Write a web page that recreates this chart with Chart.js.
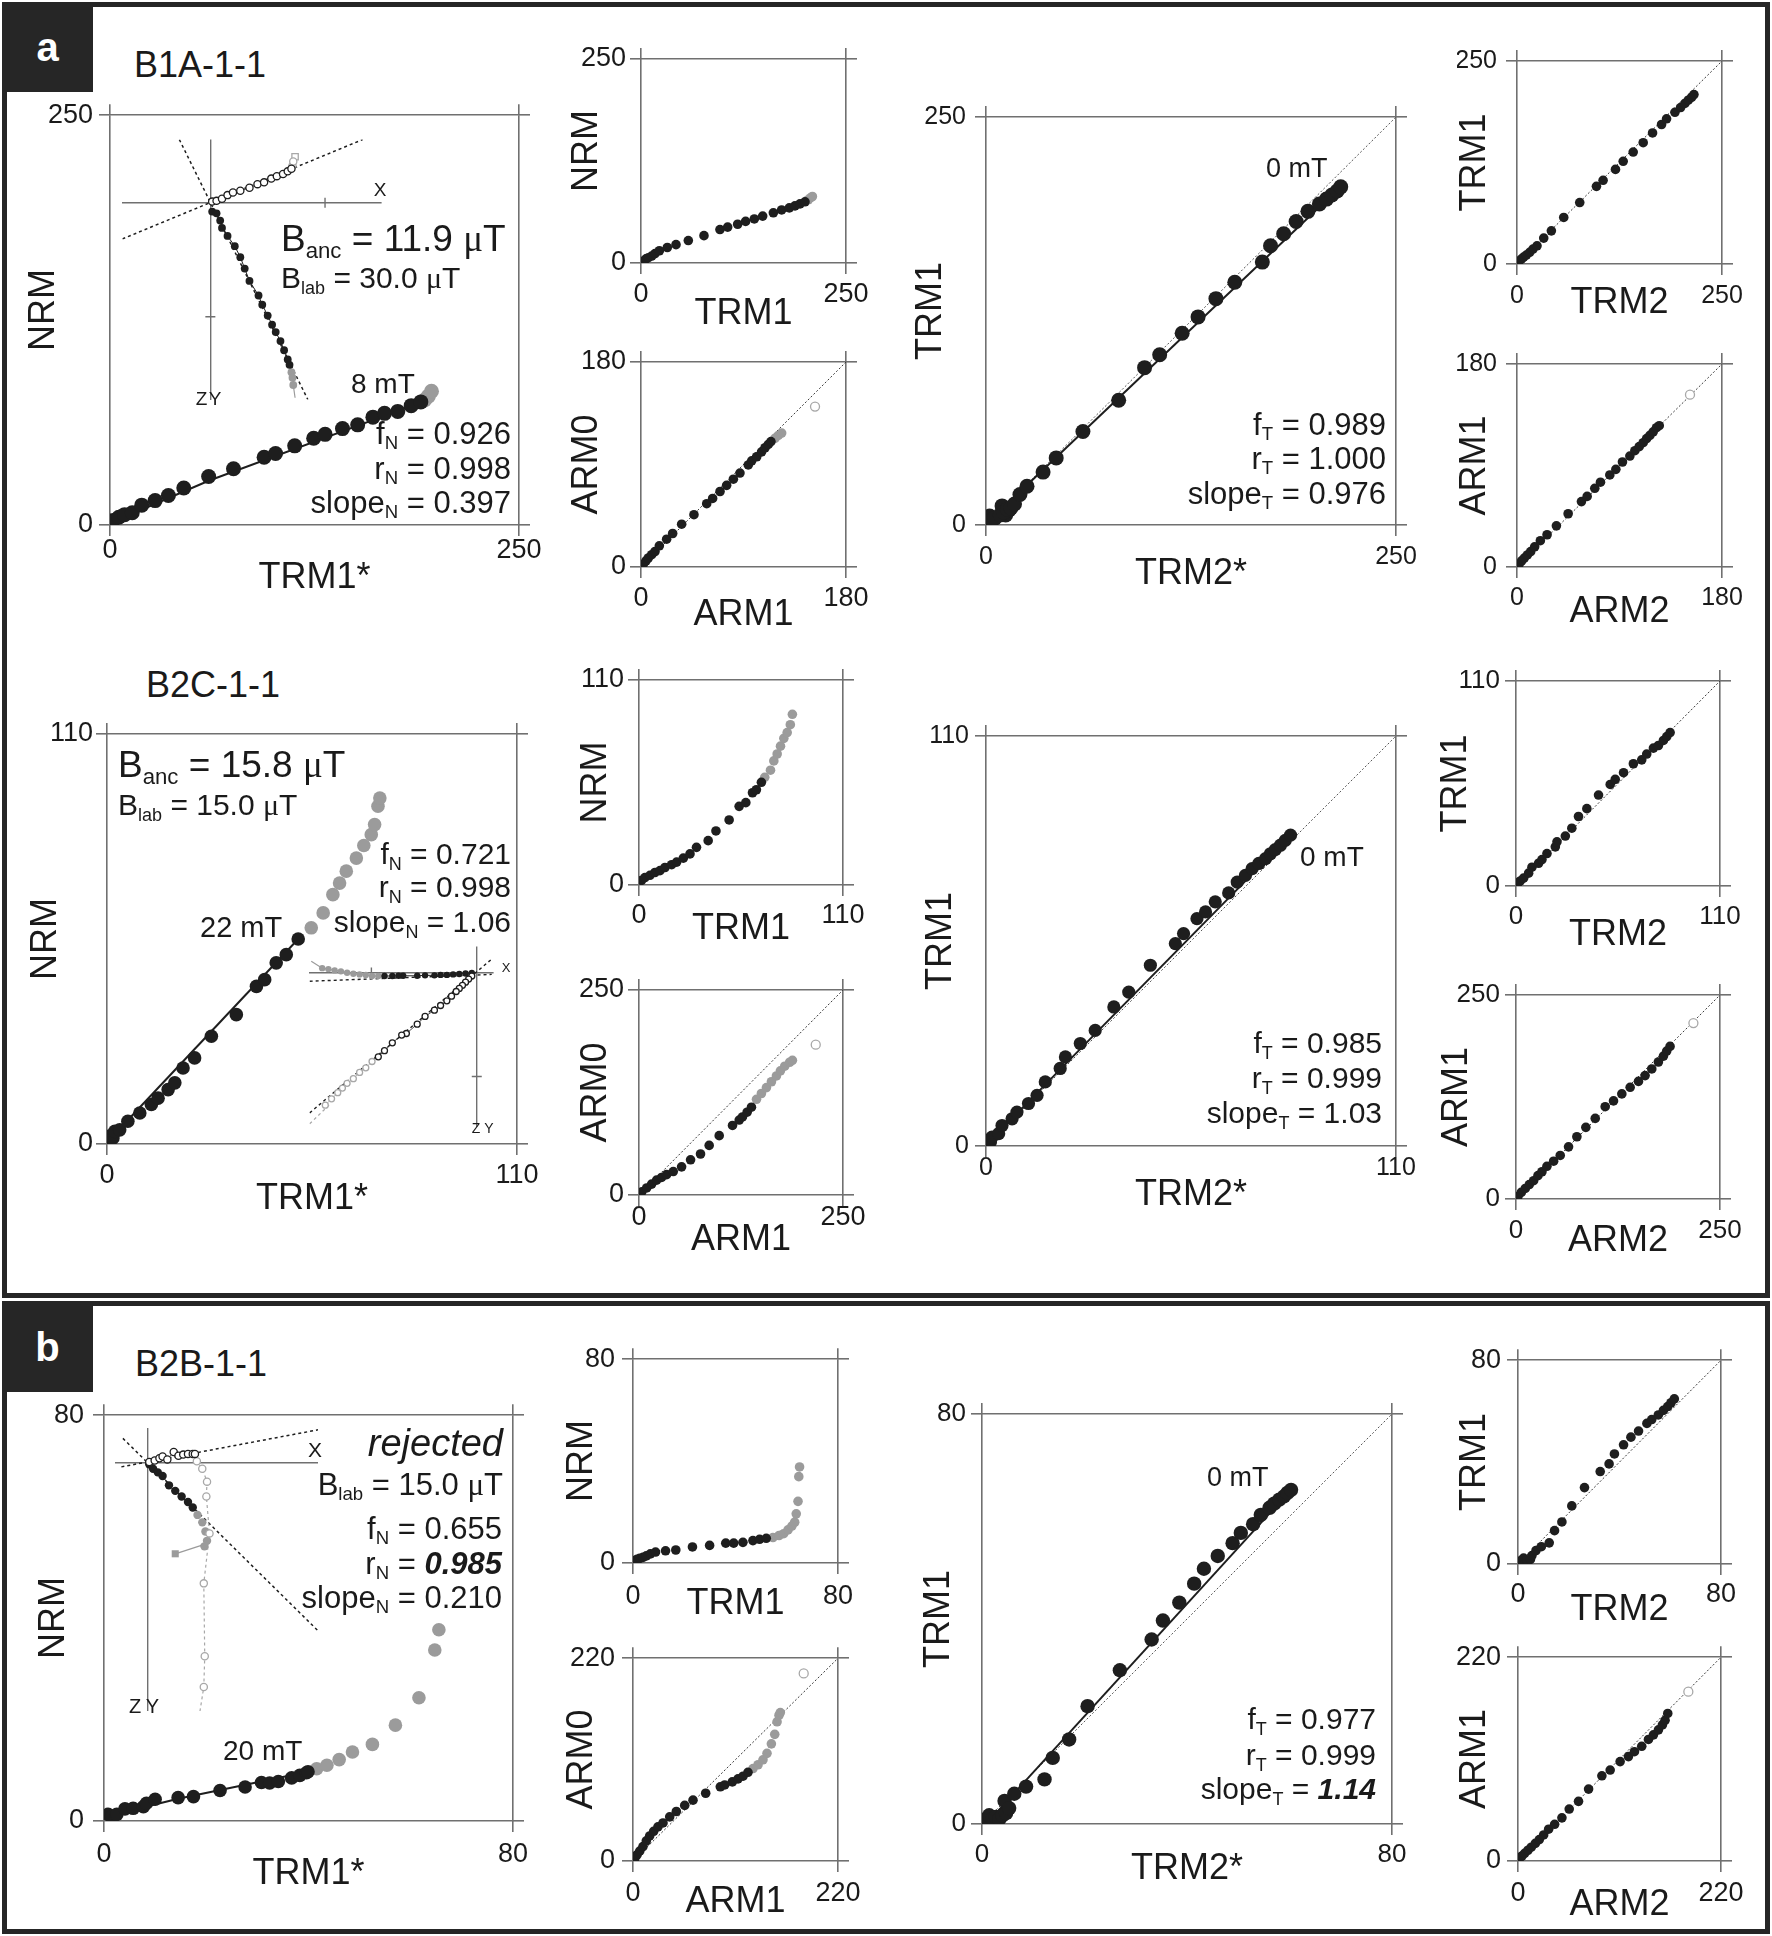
<!DOCTYPE html>
<html><head><meta charset="utf-8"><title>Tsunakawa-Shaw plots</title>
<script src="https://cdn.jsdelivr.net/npm/chart.js@4.4.1/dist/chart.umd.min.js"></script>
<style>
html,body{margin:0;padding:0;background:#fff;}
#root{position:relative;width:1772px;height:1936px;overflow:hidden;background:#fff;font-family:"Liberation Sans",Arial,Helvetica,sans-serif;color:#1a1a1a;}
.frame{position:absolute;box-sizing:border-box;border:5px solid #262626;}
.tag{position:absolute;background:#262626;color:#fff;font-weight:bold;font-size:40px;line-height:1;display:flex;align-items:center;justify-content:center;}
.t{position:absolute;white-space:nowrap;line-height:1;}
.s{font-size:0.6em;vertical-align:-0.32em;line-height:0;}
.mu{font-family:"Liberation Serif","DejaVu Serif",serif;}
canvas{position:absolute;}
</style></head>
<body><div id="root">
<div class="frame" style="left:2px;top:2px;width:1768px;height:1296px"></div>
<div class="frame" style="left:2px;top:1301px;width:1768px;height:633px"></div>
<div class="tag" style="left:2px;top:2px;width:91px;height:90px">a</div>
<div class="tag" style="left:2px;top:1301px;width:91px;height:91px">b</div>
</div>
<script>
// ================= DATA =================
// ---- Panel a, B1A-1-1
const A1_ticks = [0, 250];
const A1_blackX = [0.5,1.9,5.4,8.9,13.6,19.4,27.6,35.7,45.1,60.3,75.5,94.2,101.2,112.9,124.5,131.5,142.1,151.4,160.7,167.8,175.9,184.1,190.0];
const A1_blackY = [0.8,2.8,4.7,6.3,7.5,12.1,14.9,18.0,22.6,29.6,34.3,41.3,43.6,48.3,52.9,55.3,58.8,61.1,65.8,68.1,69.3,72.8,75.1];
const A1_grayX = [192.3,194.6,196.5];
const A1_grayY = [76.3,78.6,81.6];
const A1_fitX = [0,60.3,190];
const A1_fitY = [1,27,74.8];

const A2_ticks = [0, 250];
const A2_blackX = [2.8,6.1,9.0,13.0,17.1,22.4,32.1,42.7,57.7,76.8,96.3,105.7,117.9,127.6,138.2,148.4,161.4,171.5,180.9,187.8,193.9,200.0];
const A2_blackY = [2.5,5.0,6.5,8.5,11.5,15.0,19.0,22.5,27.5,33.5,41.0,44.0,47.5,51.0,54.0,57.5,61.5,65.0,67.5,70.0,72.5,75.0];
const A2_grayX = [204,207,209];
const A2_grayY = [77.5,80,81.5];

const A3_ticks = [0, 180];
const A3_blackX = [2.0,4.4,6.4,9.4,12.3,16.1,22.5,27.8,35.7,46.5,57.7,62.9,69.4,75.2,81.1,86.9,94.2,97.2,101.6,105.9,108.9,111.8,114.1];
const A3_blackY = [2.5,5.4,7.9,10.8,13.6,18.6,24.4,29.4,37.6,45.9,55.6,60.2,66.3,71.7,77.1,82.5,89.6,93.2,96.8,101.1,104.7,107.6,110.1];
const A3_grayX = [117.6,120.6,123.5];
const A3_grayY = [112.9,115.5,117.6];
const A3_openX = [152.8];
const A3_openY = [140.9];

const A4_ticks = [0, 250];
const A4_x = [1.1,3.3,5.4,8.7,10.9,13.0,15.2,17.4,20.7,25.0,34.8,42.8,59.1,80.9,96.7,105.9,119.6,129.3,140.2,151.7,168.5,173.5,181.5,189.1,196.3,203.3,207.6,210.9,214.1,216.3];
const A4_y = [1.7,3.0,4.2,6.2,8.0,9.7,10.5,12.9,18.7,23.7,32.4,41.1,57.3,76.4,96.4,104.3,117.5,127.5,138.7,148.7,161.1,171.1,178.5,186.0,192.2,196.7,199.7,202.2,204.7,207.2];
const A4_clusterX = [2.2,9.8,12.0,14.1];
const A4_clusterY = [5.5,11.7,6.2,9.2];
const A4_fitX = [1,216.3];
const A4_fitY = [1.5,207.2];

const A5_ticks = [0, 250];
const A5_x = [2.4,5.3,8.1,11.4,15.5,19.5,24.4,32.6,41.9,57.0,76.5,96.9,105.0,120.1,129.5,141.7,153.9,165.3,176.3,182.4,192.6,199.5,204.8,208.9,212.9,215.8];
const A5_y = [3.5,6.0,8.5,11.0,14.4,18.4,22.4,31.9,40.8,57.3,75.7,95.6,103.1,116.5,126.5,137.9,149.4,161.4,171.8,178.8,186.8,192.7,197.7,201.7,205.2,208.7];

const A6_ticks = [0, 180];
const A6_x = [1.8,4.1,6.4,9.1,12.0,15.5,20.5,26.4,34.6,44.9,56.6,61.6,68.3,73.3,81.5,86.8,92.6,99.1,103.5,107.3,110.8,113.8,116.7,119.6,122.5,124.9];
const A6_y = [2.5,5.4,7.9,10.7,13.6,17.9,23.3,28.6,36.5,47.2,58.0,62.6,69.8,75.2,81.6,86.6,93.1,98.4,103.1,106.7,110.2,113.8,116.7,119.9,123.5,125.3];
const A6_openX = [151.9];
const A6_openY = [152.8];

// ---- Panel a, B2C-1-1
const B1_ticks = [0, 110];
const B1_blackX = [0.3,0.7,1.6,2.1,3.4,5.6,8.8,11.9,13.7,16.4,18.2,20.4,23.5,28.0,34.7,40.1,42.3,45.4,48.1,51.3];
const B1_blackY = [1.2,2.1,1.6,3.4,3.8,6.1,8.3,10.6,12.3,14.6,16.4,20.4,23.1,28.9,34.7,42.3,44.1,48.6,50.8,55.0];
const B1_grayX = [54.8,58.0,60.6,62.4,64.2,66.9,68.9,70.9,71.8,72.7,73.2];
const B1_grayY = [58.0,62.0,66.9,70.0,73.2,76.7,80.1,83.0,85.7,90.6,92.8];
const B1_fitX = [0.5,51.3];
const B1_fitY = [1.0,55.0];

const B2_ticks = [0, 110];
const B2_blackX = [1.4,3.2,5.9,8.6,11.3,14.0,17.6,20.3,23.9,27.5,31.0,37.3,41.5,48.6,54.0,57.6,61.2,63.3,66.0];
const B2_blackY = [2.5,4.0,5.2,6.7,7.7,9.4,10.9,12.3,14.4,16.7,20.2,23.8,29.0,34.9,42.2,44.2,49.5,51.1,55.1];
const B2_grayX = [67.8,70.9,72.7,74.5,76.3,78.1,79.9,81.6,82.7];
const B2_grayY = [57.8,61.6,66.6,70.3,74.5,78.7,81.8,86.0,91.6];

const B3_ticks = [0, 250];
const B3_blackX = [3.3,9.4,15.5,21.6,27.7,33.8,42.0,52.2,63.2,75.4,86.0,98.3,114.6,122.8,126.8,132.5,137.8];
const B3_blackY = [3.8,8.6,13.3,18.1,21.4,24.8,28.6,34.3,42.9,50.0,60.5,72.4,84.8,91.4,95.2,101.0,107.1];
const B3_grayX = [144.0,150.0,156.2,162.3,168.4,173.3,178.6,184.7,188.0];
const B3_grayY = [116.7,123.8,131.0,138.1,145.2,151.4,157.1,161.9,164.3];
const B3_openX = [216.6];
const B3_openY = [183.3];

const B4_ticks = [0, 110];
const B4_x = [0.3,0.7,1.2,1.6,3.4,4.3,7.0,8.3,11.4,13.7,15.9,19.9,21.3,25.3,29.3,34.3,38.3,44.1,50.8,53.0,56.6,58.9,61.5,65.1,67.4,69.6,71.4,73.2,75.0,76.3,77.6,79.0,80.3,81.7];
const B4_y = [0.6,1.5,1.1,2.4,3.3,5.5,7.3,9.1,11.4,13.6,17.2,20.8,23.9,27.5,31.0,37.3,41.3,48.5,54.3,57.0,61.0,62.8,65.5,67.9,70.8,72.6,74.4,75.8,77.1,78.4,79.5,80.7,82.0,83.4];
const B4_fitX = [1,81.7];
const B4_fitY = [1.3,83.4];

const B5_ticks = [0, 110];
const B5_x = [1.1,2.3,4.1,6.8,8.6,12.2,14.0,16.7,21.2,22.1,26.6,30.1,33.7,38.2,44.5,50.8,53.5,58.0,63.3,67.8,70.5,74.1,76.8,79.5,81.3,83.1];
const B5_y = [1.7,2.7,4.2,6.9,10.1,12.2,14.2,17.4,21.0,23.7,26.8,31.0,37.3,41.5,48.8,54.5,57.2,60.8,65.6,67.7,70.8,74.0,75.4,78.1,80.2,82.3];

const B6_ticks = [0, 250];
const B6_x = [2.4,6.5,11.4,16.3,21.6,26.9,31.8,37.9,46.1,54.2,64.4,74.6,85.6,97.1,109.3,119.5,129.7,139.9,150.1,158.2,166.4,174.5,180.7,184.7,188.8];
const B6_y = [3.3,8.1,12.9,17.7,22.4,28.6,33.4,40.1,46.3,53.4,63.9,76.3,87.8,98.8,113.1,120.2,128.8,136.9,144.1,151.2,159.4,167.9,175.1,181.3,187.0];
const B6_openX = [217.4];
const B6_openY = [215.6];

// ---- Panel b, B2B-1-1
const C1_ticks = [0, 80];
const C1_blackX = [0.8,1.5,2.5,4.1,5.7,7.7,8.3,10.0,14.5,17.5,22.7,27.6,30.8,32.4,34.1,36.7,38.3,39.6,39.9];
const C1_blackY = [1.3,0.9,1.3,2.4,2.5,2.8,3.5,4.3,4.6,4.8,6.0,6.7,7.6,7.5,7.8,8.5,9.0,9.5,9.7];
const C1_grayX = [41.6,43.6,46.0,48.6,52.5,57.0,61.6,64.7,65.5];
const C1_grayY = [10.3,11.0,12.1,13.6,15.1,18.9,24.3,33.7,37.7];
const C1_fitX = [0.8,14.5,39.9];
const C1_fitY = [1.0,4.4,9.7];

const C2_ticks = [0, 80];
const C2_blackX = [0.7,1.6,2.6,3.9,5.2,6.8,8.8,12.7,16.7,23.2,29.9,36.2,39.3,42.9,46.8,49.4,52.0];
const C2_blackY = [1.0,1.5,1.8,2.2,2.8,3.6,4.3,4.8,5.1,6.3,6.9,7.8,7.8,8.1,8.8,9.3,9.7];
const C2_grayX = [54.6,57.0,58.8,60.5,62.0,63.1,63.7,64.4,64.7,65.0];
const C2_grayY = [10.0,10.8,11.5,13.0,14.5,16.0,19.3,24.2,33.9,37.7];

const C3_ticks = [0, 220];
const C3_blackX = [1.8,4.3,7.2,10.7,14.3,17.9,22.2,26.8,32.2,39.4,46.5,55.5,64.4,78.0,93.7,98.4,106.6,112.7,118.1,123.4];
const C3_blackY = [2.5,6.6,10.7,15.7,21.9,27.2,32.2,37.1,41.3,47.9,53.7,60.3,66.0,73.5,80.5,82.5,85.8,89.1,92.0,96.2];
const C3_grayX = [128.8,134.2,139.5,143.8,148.5,152.1,154.6,156.7,158.1];
const C3_grayY = [100.3,104.4,109.8,116.8,127.1,137.4,151.0,158.1,161.0];
const C3_openX = [183.2];
const C3_openY = [203.5];

const C4_ticks = [0, 80];
const C4_x = [0.8,1.4,2.1,2.7,3.4,4.0,4.4,4.7,5.3,6.3,8.6,12.2,13.8,17.0,20.6,26.9,33.1,35.3,38.5,41.4,43.3,46.0,48.9,50.5,52.9,54.4,56.1,57.0,58.0,58.9,59.6,60.3];
const C4_y = [1.0,1.7,1.0,1.4,1.0,1.7,4.5,2.1,3.1,5.9,7.3,8.7,12.9,16.5,23.0,30.0,36.0,39.7,43.2,46.9,49.8,52.3,54.8,56.8,58.5,60.3,61.7,62.5,63.3,63.9,64.6,65.2];
const C4_fitX = [3,60.3];
const C4_fitY = [2.4,65.2];

const C5_ticks = [0, 80];
const C5_x = [0.5,1.3,2.2,3.5,4.9,5.5,7.1,9.2,12.3,14.4,17.3,21.2,26.2,32.4,35.9,38.0,41.6,44.5,47.5,50.8,52.7,55.3,57.3,59.0,60.3,61.6];
const C5_y = [0.8,1.5,2.3,1.5,1.8,3.3,5.3,6.8,8.3,13.1,16.5,22.8,30.0,36.3,39.3,43.2,46.8,49.8,52.2,55.2,56.7,58.5,60.3,61.8,63.3,64.8];

const C6_ticks = [0, 220];
const C6_x = [1.4,4.3,7.2,10.8,14.4,18.8,23.1,27.8,33.2,39.7,47.6,55.5,65.6,76.5,90.9,99.9,110.7,119.7,126.2,134.1,141.4,146.8,152.2,156.5,159.4,162.3];
const C6_y = [2.5,5.4,8.3,11.6,14.9,19.0,23.1,28.1,34.3,39.6,46.6,56.1,64.4,77.6,92.0,98.2,107.3,112.7,118.0,123.8,131.2,136.2,141.6,146.9,151.9,159.3];
const C6_openX = [184.6];
const C6_openY = [182.8];

// ---- Zijderveld insets (arbitrary units)
const Z_axis = [0];
const Z1_openX = [1.9,6.5,12.2,18.0,23.7,31.4,41.0,49.4,56.3,63.9,69.7,76.2,81.1,85.0];
const Z1_openY = [1.2,2.0,4.2,8.0,10.7,12.6,15.7,19.5,21.4,25.3,27.9,30.2,32.9,35.6];
const Z1_openGrayX = [86.1,86.9];
const Z1_openGrayY = [38.7,43.3];
const Z1_squareX = [88.8];
const Z1_squareY = [48.2];
const Z1_fillX = [1.9,6.5,10.3,12.2,18.0,25.6,31.4,36.0,41.0,50.5,54.4,60.1,64.7,68.5,73.5,77.3,81.1,83.0];
const Z1_fillY = [-9.2,-11.1,-18.7,-26.4,-34.8,-45.5,-57.0,-69.0,-81.9,-97.2,-106.8,-118.2,-127.8,-135.5,-145.0,-154.6,-164.2,-169.9];
const Z1_fillGrayX = [85.0,86.1,86.9];
const Z1_fillGrayY = [-177.6,-183.3,-191.0];
const Z1_tailX = [83.0,85.0,86.1,86.9,88.8];
const Z1_tailY = [-169.9,-177.6,-183.3,-191.0,-204.4];
const Z1_fitAX = [-92.2,159.6];
const Z1_fitAY = [-37.9,66.2];
const Z1_fitBX = [-32.5,102.2];
const Z1_fitBY = [66.2,-206.3];
const Z1_tickX = [120.2];
const Z1_tickY = [-119.4];

const Z2_fillX = [-5.3,-12.0,-18.7,-25.3,-32.0,-38.7,-45.3,-55.3,-63.7,-78.7,-83.7,-90.3,-98.7];
const Z2_fillY = [-0.5,-1.0,-1.5,-2.0,-2.5,-2.5,-3.0,-3.0,-3.5,-3.5,-3.5,-3.7,-3.7];
const Z2_fillGrayX = [-105.3,-112.0,-118.7,-125.3,-132.0,-138.7,-145.3,-152.0,-158.7,-165.3];
const Z2_fillGrayY = [-3.7,-3.7,-2.7,-2.0,-1.3,-0.3,1.3,2.3,3.7,4.7];
const Z2_tailX = [-98.7,-105.3,-112.0,-118.7,-125.3,-132.0,-138.7,-145.3,-152.0,-158.7,-165.3,-177.0];
const Z2_tailY = [-3.7,-3.7,-3.7,-2.7,-2.0,-1.3,-0.3,1.3,2.3,3.7,4.7,12.0];
const Z2_openX = [-5.3,-8.7,-12.0,-15.3,-18.7,-22.0,-27.0,-32.0,-38.7,-45.3,-55.3,-63.7,-75.3,-80.3,-90.3,-98.7,-105.3];
const Z2_openY = [-3.7,-7.0,-10.3,-13.7,-17.0,-20.3,-25.3,-30.3,-35.3,-40.3,-47.0,-55.3,-65.3,-67.0,-75.3,-83.7,-90.3];
const Z2_openGrayX = [-112.0,-118.7,-125.3,-132.0,-138.7,-143.7,-148.7,-155.3,-162.0];
const Z2_openGrayY = [-95.3,-102.0,-107.0,-113.7,-118.7,-123.7,-128.7,-135.3,-142.0];
const Z2_fitAX = [-178.7,16.3];
const Z2_fitAY = [-150.3,14.7];
const Z2_fitBX = [-178.7,16.0];
const Z2_fitBY = [-9.3,-2.0];
const Z2_fitCX = [-178.7,-158.0];
const Z2_fitCY = [-162.0,-142.0];
const Z2_tickX = [-112.7];
const Z2_tickY = [-111.3];

const Z3_openX = [2.0,7.7,12.7,16.0,21.0,27.7,32.7,37.7,42.7,47.7,50.0];
const Z3_openY = [1.1,2.7,5.0,6.9,3.8,11.5,7.6,8.8,9.5,9.5,9.5];
const Z3_openGrayX = [52.0,57.7,62.7,62.0,65.3,59.3,60.3,59.3];
const Z3_openGrayY = [1.9,-5.8,-19.2,-34.5,-72.7,-124.4,-199.8,-231.6];
const Z3_openTailX = [50.0,52.0,57.7,62.7,62.0,65.3,59.3,60.3,59.3,55.3];
const Z3_openTailY = [9.5,1.9,-5.8,-19.2,-34.5,-72.7,-124.4,-199.8,-231.6,-256.4];
const Z3_fillX = [2.0,6.0,11.0,16.0,22.7,29.3,36.0,42.7,47.7];
const Z3_fillY = [-1.2,-5.8,-9.6,-13.4,-23.0,-28.7,-34.5,-40.2,-46.0];
const Z3_fillGrayX = [52.7,57.7,61.0,62.7,60.0];
const Z3_fillGrayY = [-53.6,-61.3,-70.8,-80.4,-86.1];
const Z3_squareX = [29.3];
const Z3_squareY = [-93.8];
const Z3_sqLineX = [29.3,60.0];
const Z3_sqLineY = [-93.8,-84.0];
const Z3_fitAX = [-27.3,179.3];
const Z3_fitAY = [-3.9,34.4];
const Z3_fitBX = [-25.7,179.3];
const Z3_fitBY = [25.6,-173.4];

// ================= DRAWING =================
const FF = '"Liberation Sans", Arial, Helvetica, sans-serif';
const TC = '#1a1a1a', BLACK = '#1e1e1e', GRAY = '#9b9b9b', OGRAY = '#a8a8a8', AX = '#707070';
const DOT1 = '#3a3a3a', DOTB = '#555';
const root = document.getElementById('root');
Chart.defaults.font.family = FF;

function pts(xs, ys) { return xs.map((x, i) => ({x: x, y: ys[i]})); }
function dots(xs, ys, color, r, style) {
  return {data: pts(xs, ys), pointRadius: r, pointHoverRadius: r, pointStyle: style || 'circle', backgroundColor: color, borderWidth: 0, showLine: false, order: 0};
}
function rings(xs, ys, color, r, style) {
  return {data: pts(xs, ys), pointRadius: r, pointHoverRadius: r, pointStyle: style || 'circle', backgroundColor: '#fff', borderColor: color, borderWidth: 1.3, showLine: false, order: 0};
}
function line(xs, ys, color, w, dash, order) {
  return {data: pts(xs, ys), pointRadius: 0, pointHoverRadius: 0, borderColor: color, borderWidth: w, borderDash: dash || [], showLine: true, fill: false, order: order === undefined ? 1 : order};
}
function tick(xs, ys, rot) {
  return {data: pts(xs, ys), pointStyle: 'line', pointRotation: rot, pointRadius: 5, pointHoverRadius: 5, borderColor: AX, borderWidth: 1.4, showLine: false, order: 0};
}

function plot(p) {
  const tl = 11, tsz = 36;
  const WL = p.yOff + tsz / 2, HB = p.xOff + tsz / 2, HT = 22, WR = 44;
  const W = WL + p.w + WR, H = HT + p.h + HB;
  const cv = document.createElement('canvas');
  cv.width = W; cv.height = H;
  cv.style.left = (p.left - WL) + 'px'; cv.style.top = (p.top - HT) + 'px';
  cv.style.width = W + 'px'; cv.style.height = H + 'px';
  root.appendChild(cv);
  const max = p.ticks[p.ticks.length - 1];
  const tk = s => { s.ticks = p.ticks.map(v => ({value: v})); };
  const grid = on => ({display: true, drawOnChartArea: on, drawTicks: true, tickLength: tl, color: AX, lineWidth: 1.6});
  const tf = {family: FF, size: p.ksz};
  const ttl = txt => ({display: true, text: txt, color: TC, font: {family: FF, size: tsz, lineHeight: 1}, padding: 0});
  const ytxt = (p.yUp ? '  ' : '') + p.yt;
  new Chart(cv, {
    type: 'scatter',
    data: {datasets: p.ds},
    options: {
      responsive: false, animation: false, devicePixelRatio: 1, events: [],
      layout: {padding: 0},
      plugins: {legend: {display: false}, tooltip: {enabled: false}},
      scales: {
        x: {type: 'linear', position: 'bottom', min: 0, max: max, afterBuildTicks: tk, afterFit: s => { s.height = HB; },
            grid: grid(true), border: {display: false},
            ticks: {autoSkip: false, maxRotation: 0, minRotation: 0, padding: p.xpad, color: TC, font: tf, callback: v => String(v)},
            title: ttl(p.xt)},
        y: {type: 'linear', position: 'left', min: 0, max: max, afterBuildTicks: tk, afterFit: s => { s.width = WL; },
            grid: grid(true), border: {display: false},
            ticks: {autoSkip: false, padding: p.ypad, color: TC, font: tf, callback: v => String(v)},
            title: ttl(ytxt)},
        x2: {type: 'linear', position: 'top', min: 0, max: max, afterBuildTicks: tk, afterFit: s => { s.height = HT; },
             grid: grid(false), border: {display: false}, ticks: {display: false}},
        y2: {type: 'linear', position: 'right', min: 0, max: max, afterBuildTicks: tk, afterFit: s => { s.width = WR; },
             grid: grid(false), border: {display: false}, ticks: {display: false}}
      }
    }
  });
}

function inset(p) {
  const W = Math.round(p.w), H = Math.round(p.h);
  const cv = document.createElement('canvas');
  cv.width = W; cv.height = H;
  cv.style.left = Math.round(p.left) + 'px'; cv.style.top = Math.round(p.top) + 'px';
  cv.style.width = W + 'px'; cv.style.height = H + 'px';
  root.appendChild(cv);
  const z = s => { s.ticks = Z_axis.map(v => ({value: v})); };
  const ax = (pos, r, horiz) => ({type: 'linear', position: pos, min: r[0], max: r[1], afterBuildTicks: z,
    afterFit: s => { if (horiz) s.height = 0; else s.width = 0; },
    grid: {display: true, drawOnChartArea: true, drawTicks: false, color: AX, lineWidth: 1.4},
    border: {display: false}, ticks: {display: false}});
  new Chart(cv, {
    type: 'scatter',
    data: {datasets: p.ds},
    options: {
      responsive: false, animation: false, devicePixelRatio: 1, events: [],
      layout: {padding: 0},
      plugins: {legend: {display: false}, tooltip: {enabled: false}},
      scales: {x: ax('bottom', p.xr, true), y: ax('left', p.yr, false)}
    }
  });
}

function T(html, x, y, size, al, extra) {
  const d = document.createElement('div');
  d.className = 't';
  d.innerHTML = html;
  d.style.left = x + 'px'; d.style.top = y + 'px'; d.style.fontSize = size + 'px';
  d.style.transform = al === 'r' ? 'translate(-100%,-50%)' : al === 'c' ? 'translate(-50%,-50%)' : 'translateY(-50%)';
  if (extra) d.style.cssText += extra;
  root.appendChild(d);
}

const S = (t) => '<span class="s">' + t + '</span>';
const MU = '<span class="mu">μ</span>T';
const RS = 7.5, RM = 6.8, RSm = 4.8;

// ---- Row 1 : B1A-1-1
plot({left: 110, top: 115, w: 409, h: 410, ticks: A1_ticks, xt: 'TRM1*', yt: 'NRM', yUp: true, xOff: 53, yOff: 66, ksz: 27, xpad: -2, ypad: 6,
  ds: [dots(A1_blackX, A1_blackY, BLACK, RS), dots(A1_grayX, A1_grayY, GRAY, RS), line(A1_fitX, A1_fitY, BLACK, 2)]});
inset({left: 115.6, top: 133, w: 271.7, h: 272.7, xr: [-92.2, 179.5], yr: [-206.3, 66.4],
  ds: [
    rings(Z1_openX, Z1_openY, BLACK, 3.6), rings(Z1_openGrayX, Z1_openGrayY, OGRAY, 3.6), rings(Z1_squareX, Z1_squareY, OGRAY, 4.5, 'rect'),
    dots(Z1_fillX, Z1_fillY, BLACK, 3.9), dots(Z1_fillGrayX, Z1_fillGrayY, GRAY, 3.9),
    line(Z1_fillX, Z1_fillY, BLACK, 1, null, 1), line(Z1_tailX, Z1_tailY, GRAY, 1.2, null, 1),
    line(Z1_openX, Z1_openY, BLACK, 0.8, null, 1),
    line(Z1_fitAX, Z1_fitAY, BLACK, 1.5, [3, 3], 3), line(Z1_fitBX, Z1_fitBY, BLACK, 1.5, [3, 3], 3),
    tick(Z1_tickX, Z_axis, 90), tick(Z_axis, Z1_tickY, 0)
  ]});

plot({left: 641, top: 59, w: 205, h: 204, ticks: A2_ticks, xt: 'TRM1', yt: 'NRM', yUp: true, xOff: 51, yOff: 54, ksz: 27, xpad: 4, ypad: 4,
  ds: [dots(A2_blackX, A2_blackY, BLACK, RSm), dots(A2_grayX, A2_grayY, GRAY, RSm)]});
plot({left: 641, top: 362, w: 205, h: 205, ticks: A3_ticks, xt: 'ARM1', yt: 'ARM0', xOff: 48, yOff: 54, ksz: 27, xpad: 4, ypad: 4,
  ds: [dots(A3_blackX, A3_blackY, BLACK, RSm), dots(A3_grayX, A3_grayY, GRAY, RSm), rings(A3_openX, A3_openY, OGRAY, 4.5),
       line(A3_ticks, A3_ticks, DOT1, 1, [2, 2], 3)]});
plot({left: 986, top: 115, w: 410, h: 410, ticks: A4_ticks, xt: 'TRM2*', yt: 'TRM1', yUp: true, xOff: 49, yOff: 55, ksz: 25, xpad: 6, ypad: 9,
  ds: [dots(A4_x, A4_y, BLACK, RS), dots(A4_clusterX, A4_clusterY, BLACK, RS), line(A4_fitX, A4_fitY, BLACK, 2),
       line(A4_ticks, A4_ticks, DOTB, 1, [2, 2], 3)]});
plot({left: 1517, top: 59, w: 205, h: 205, ticks: A5_ticks, xt: 'TRM2', yt: 'TRM1', xOff: 39, yOff: 42, ksz: 25, xpad: 6, ypad: 9,
  ds: [dots(A5_x, A5_y, BLACK, RSm), line(A5_ticks, A5_ticks, DOT1, 1, [2, 2], 3)]});
plot({left: 1517, top: 362, w: 205, h: 205, ticks: A6_ticks, xt: 'ARM2', yt: 'ARM1', xOff: 45, yOff: 42, ksz: 25, xpad: 5, ypad: 9,
  ds: [dots(A6_x, A6_y, BLACK, RSm), rings(A6_openX, A6_openY, OGRAY, 4.5), line(A6_ticks, A6_ticks, DOT1, 1, [2, 2], 3)]});

// ---- Row 2 : B2C-1-1
plot({left: 107, top: 734, w: 410, h: 410, ticks: B1_ticks, xt: 'TRM1*', yt: 'NRM', xOff: 55, yOff: 61, ksz: 27, xpad: 4, ypad: 3,
  ds: [dots(B1_blackX, B1_blackY, BLACK, RM), dots(B1_grayX, B1_grayY, GRAY, RM), line(B1_fitX, B1_fitY, BLACK, 2)]});
inset({left: 303, top: 940, w: 197, h: 193, xr: [-179, 18], yr: [-165, 28],
  ds: [
    rings(Z2_openX, Z2_openY, BLACK, 3), rings(Z2_openGrayX, Z2_openGrayY, OGRAY, 3),
    dots(Z2_fillX, Z2_fillY, BLACK, 3.2), dots(Z2_fillGrayX, Z2_fillGrayY, GRAY, 3.2),
    line(Z2_fillX, Z2_fillY, BLACK, 1, null, 1), line(Z2_tailX, Z2_tailY, GRAY, 1.2, null, 1),
    line(Z2_openX, Z2_openY, BLACK, 0.8, null, 1), line(Z2_openGrayX, Z2_openGrayY, OGRAY, 0.8, null, 1),
    line(Z2_fitAX, Z2_fitAY, BLACK, 1.4, [3, 3], 3), line(Z2_fitBX, Z2_fitBY, BLACK, 1.4, [3, 3], 3),
    line(Z2_fitCX, Z2_fitCY, OGRAY, 1.2, [3, 3], 3),
    tick(Z2_tickX, Z_axis, 90), tick(Z_axis, Z2_tickY, 0)
  ]});
plot({left: 639, top: 680, w: 204, h: 205, ticks: B2_ticks, xt: 'TRM1', yt: 'NRM', xOff: 44, yOff: 43, ksz: 27, xpad: 3, ypad: 4,
  ds: [dots(B2_blackX, B2_blackY, BLACK, RSm), dots(B2_grayX, B2_grayY, GRAY, RSm)]});
plot({left: 639, top: 990, w: 204, h: 205, ticks: B3_ticks, xt: 'ARM1', yt: 'ARM0', xOff: 45, yOff: 43, ksz: 27, xpad: -5, ypad: 4,
  ds: [dots(B3_blackX, B3_blackY, BLACK, RSm), dots(B3_grayX, B3_grayY, GRAY, RSm), rings(B3_openX, B3_openY, OGRAY, 4.5),
       line(B3_ticks, B3_ticks, DOT1, 1, [2, 2], 3)]});
plot({left: 986, top: 736, w: 410, h: 410, ticks: B4_ticks, xt: 'TRM2*', yt: 'TRM1', xOff: 49, yOff: 45, ksz: 25, xpad: -4, ypad: 6,
  ds: [dots(B4_x, B4_y, BLACK, 6.6), line(B4_fitX, B4_fitY, BLACK, 2), line(B4_ticks, B4_ticks, DOTB, 1, [2, 2], 3)]});
plot({left: 1516, top: 681, w: 204, h: 205, ticks: B5_ticks, xt: 'TRM2', yt: 'TRM1', xOff: 49, yOff: 60, ksz: 26, xpad: 4, ypad: 5,
  ds: [dots(B5_x, B5_y, BLACK, RSm), line(B5_ticks, B5_ticks, DOT1, 1, [2, 2], 3)]});
plot({left: 1516, top: 995, w: 204, h: 204, ticks: B6_ticks, xt: 'ARM2', yt: 'ARM1', xOff: 42, yOff: 59, ksz: 26, xpad: 5, ypad: 5,
  ds: [dots(B6_x, B6_y, BLACK, RSm), rings(B6_openX, B6_openY, OGRAY, 4.5), line(B6_ticks, B6_ticks, DOT1, 1, [2, 2], 3)]});

// ---- Row 3 : B2B-1-1
plot({left: 104, top: 1412, w: 409, h: 409, ticks: C1_ticks, xt: 'TRM1*', yt: 'NRM', xOff: 53, yOff: 50, ksz: 27, xpad: 6, ypad: 9,
  ds: [dots(C1_blackX, C1_blackY, BLACK, RM), dots(C1_grayX, C1_grayY, GRAY, RM), line(C1_fitX, C1_fitY, BLACK, 2)]});
inset({left: 110, top: 1422.5, w: 213.3, h: 292.7, xr: [-34, 179.3], yr: [-256.4, 36.3],
  ds: [
    rings(Z3_openX, Z3_openY, BLACK, 3.6), rings(Z3_openGrayX, Z3_openGrayY, OGRAY, 3.6),
    dots(Z3_squareX, Z3_squareY, GRAY, 5, 'rect'),
    dots(Z3_fillX, Z3_fillY, BLACK, 4.2), dots(Z3_fillGrayX, Z3_fillGrayY, GRAY, 4.2),
    line(Z3_fillX, Z3_fillY, BLACK, 1, null, 1), line(Z3_sqLineX, Z3_sqLineY, GRAY, 1.3, null, 1),
    line(Z3_openX, Z3_openY, BLACK, 0.8, null, 1), line(Z3_openTailX, Z3_openTailY, OGRAY, 1.2, [3, 3], 1),
    line(Z3_fitAX, Z3_fitAY, BLACK, 1.5, [3, 3], 3), line(Z3_fitBX, Z3_fitBY, BLACK, 1.5, [3, 3], 3)
  ]});
plot({left: 633, top: 1358, w: 205, h: 205, ticks: C2_ticks, xt: 'TRM1', yt: 'NRM', xOff: 41, yOff: 51, ksz: 27, xpad: 6, ypad: 7,
  ds: [dots(C2_blackX, C2_blackY, BLACK, RSm), dots(C2_grayX, C2_grayY, GRAY, RSm)]});
plot({left: 633, top: 1657, w: 205, h: 204, ticks: C3_ticks, xt: 'ARM1', yt: 'ARM0', xOff: 41, yOff: 51, ksz: 27, xpad: 5, ypad: 7,
  ds: [dots(C3_blackX, C3_blackY, BLACK, RSm), dots(C3_grayX, C3_grayY, GRAY, RSm), rings(C3_openX, C3_openY, OGRAY, 4.5),
       line(C3_ticks, C3_ticks, DOT1, 1, [2, 2], 3)]});
plot({left: 982, top: 1414, w: 410, h: 410, ticks: C4_ticks, xt: 'TRM2*', yt: 'TRM1', xOff: 45, yOff: 43, ksz: 26, xpad: 4, ypad: 5,
  ds: [dots(C4_x, C4_y, BLACK, 7.2), line(C4_fitX, C4_fitY, BLACK, 2), line(C4_ticks, C4_ticks, DOTB, 1, [2, 2], 3)]});
plot({left: 1518, top: 1360, w: 203, h: 204, ticks: C5_ticks, xt: 'TRM2', yt: 'TRM1', xOff: 46, yOff: 43, ksz: 27, xpad: 3, ypad: 6,
  ds: [dots(C5_x, C5_y, BLACK, RSm), line(C5_ticks, C5_ticks, DOT1, 1, [2, 2], 3)]});
plot({left: 1518, top: 1657, w: 203, h: 204, ticks: C6_ticks, xt: 'ARM2', yt: 'ARM1', xOff: 44, yOff: 43, ksz: 27, xpad: 5, ypad: 6,
  ds: [dots(C6_x, C6_y, BLACK, RSm), rings(C6_openX, C6_openY, OGRAY, 4.5), line(C6_ticks, C6_ticks, DOT1, 1, [2, 2], 3)]});

// ================= TEXT =================
T('B1A-1-1', 134, 65, 36);
T('B' + S('anc') + ' = 11.9 ' + MU, 281, 238, 37);
T('B' + S('lab') + ' = 30.0 ' + MU, 281, 277.5, 30);
T('8 mT', 351, 384.4, 28);
T('f' + S('N') + ' = 0.926', 511, 433.2, 31, 'r');
T('r' + S('N') + ' = 0.998', 511, 467.6, 31, 'r');
T('slope' + S('N') + ' = 0.397', 511, 502, 31, 'r');
T('X', 380, 189, 19, 'c'); T('Z', 201.5, 398, 19, 'c'); T('Y', 215, 398, 19, 'c');
T('0 mT', 1266, 168, 27);
T('f' + S('T') + ' = 0.989', 1386, 424, 31, 'r');
T('r' + S('T') + ' = 1.000', 1386, 458.2, 31, 'r');
T('slope' + S('T') + ' = 0.976', 1386, 493.2, 31, 'r');

T('B2C-1-1', 146, 685, 36);
T('B' + S('anc') + ' = 15.8 ' + MU, 118, 764, 37);
T('B' + S('lab') + ' = 15.0 ' + MU, 118, 804.5, 30);
T('f' + S('N') + ' = 0.721', 511, 853.5, 30, 'r');
T('r' + S('N') + ' = 0.998', 511, 886.5, 30, 'r');
T('slope' + S('N') + ' = 1.06', 511, 921.5, 30, 'r');
T('22 mT', 200, 927, 29);
T('X', 506, 967, 13, 'c'); T('Z', 476, 1128, 14, 'c'); T('Y', 489, 1128, 14, 'c');
T('0 mT', 1300, 857, 28);
T('f' + S('T') + ' = 0.985', 1382, 1042.5, 30, 'r');
T('r' + S('T') + ' = 0.999', 1382, 1077.5, 30, 'r');
T('slope' + S('T') + ' = 1.03', 1382, 1112.5, 30, 'r');

T('B2B-1-1', 135, 1364, 36);
T('<i>rejected</i>', 503, 1442.7, 38, 'r');
T('B' + S('lab') + ' = 15.0 ' + MU, 503, 1484.2, 31, 'r');
T('f' + S('N') + ' = 0.655', 502, 1528.2, 31, 'r');
T('r' + S('N') + ' = <b><i>0.985</i></b>', 502, 1562.8, 31, 'r');
T('slope' + S('N') + ' = 0.210', 502, 1597.2, 31, 'r');
T('20 mT', 223, 1751.2, 28);
T('X', 315, 1449, 21, 'c'); T('Z', 135, 1705.6, 20, 'c'); T('Y', 152.5, 1705.6, 20, 'c');
T('0 mT', 1207, 1477, 27);
T('f' + S('T') + ' = 0.977', 1376, 1718.5, 30, 'r');
T('r' + S('T') + ' = 0.999', 1376, 1754.5, 30, 'r');
T('slope' + S('T') + ' = <b><i>1.14</i></b>', 1376, 1788.5, 30, 'r');
</script></body></html>
